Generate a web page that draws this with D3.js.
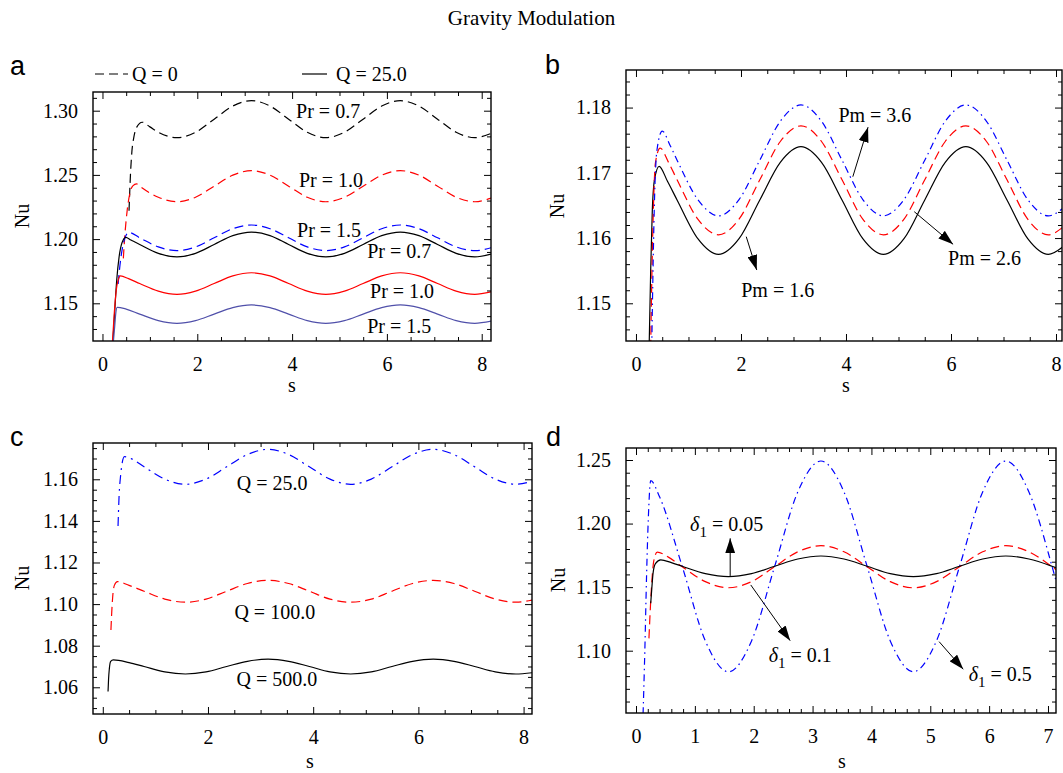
<!DOCTYPE html>
<html lang="en">
<head>
<meta charset="utf-8">
<script src="https://cdn.jsdelivr.net/npm/d3@7"></script>
<style>
  body { margin: 0; background: #fff; }
</style>
</head>
<body>
<svg id="fig" width="1063" height="773" font-family="'Liberation Serif', 'Times New Roman', serif"></svg>
<script>
// ---- values: [s, Nu] ----
// panel a: Q = 0 (dashed) and Q = 25 (solid) for three Pr
const a_q0_pr07 = [[0.56,1.222],[0.59,1.250],[0.62,1.268],[0.66,1.279],[0.72,1.287],[0.84,1.2910],[1.00,1.2874],[1.178,1.2832],[1.571,1.2790],[1.963,1.2832],[2.356,1.2934],[2.749,1.3036],[3.142,1.3078],[3.534,1.3036],[3.927,1.2934],[4.320,1.2832],[4.712,1.2790],[5.105,1.2832],[5.498,1.2934],[5.890,1.3036],[6.283,1.3078],[6.676,1.3036],[7.069,1.2934],[7.461,1.2832],[7.854,1.2790],[8.20,1.2823]];
const a_q0_pr10 = [[0.44,1.185],[0.47,1.202],[0.52,1.222],[0.58,1.236],[0.64,1.2415],[0.72,1.2430],[0.785,1.2412],[1.178,1.2326],[1.571,1.2291],[1.963,1.2326],[2.356,1.2412],[2.749,1.2498],[3.142,1.2533],[3.534,1.2498],[3.927,1.2412],[4.320,1.2326],[4.712,1.2291],[5.105,1.2326],[5.498,1.2412],[5.890,1.2498],[6.283,1.2533],[6.676,1.2498],[7.069,1.2412],[7.461,1.2326],[7.854,1.2291],[8.20,1.2319]];
const a_q0_pr15 = [[0.33,1.165],[0.37,1.180],[0.42,1.193],[0.48,1.2015],[0.56,1.2052],[0.785,1.2010],[1.178,1.1939],[1.571,1.1910],[1.963,1.1939],[2.356,1.2010],[2.749,1.2081],[3.142,1.2110],[3.534,1.2081],[3.927,1.2010],[4.320,1.1939],[4.712,1.1910],[5.105,1.1939],[5.498,1.2010],[5.890,1.2081],[6.283,1.2110],[6.676,1.2081],[7.069,1.2010],[7.461,1.1939],[7.854,1.1910],[8.20,1.1933]];
const a_q25_pr07 = [[0.22,1.120],[0.26,1.145],[0.30,1.168],[0.35,1.186],[0.41,1.197],[0.49,1.2014],[0.60,1.1993],[0.785,1.1958],[1.178,1.1889],[1.571,1.1861],[1.963,1.1889],[2.356,1.1958],[2.749,1.2027],[3.142,1.2055],[3.534,1.2027],[3.927,1.1958],[4.320,1.1889],[4.712,1.1861],[5.105,1.1889],[5.498,1.1958],[5.890,1.2027],[6.283,1.2055],[6.676,1.2027],[7.069,1.1958],[7.461,1.1889],[7.854,1.1861],[8.20,1.1883]];
const a_q25_pr10 = [[0.21,1.120],[0.25,1.143],[0.29,1.160],[0.33,1.168],[0.38,1.1713],[0.55,1.1692],[0.785,1.1654],[1.178,1.1595],[1.571,1.1570],[1.963,1.1595],[2.356,1.1654],[2.749,1.1713],[3.142,1.1738],[3.534,1.1713],[3.927,1.1654],[4.320,1.1595],[4.712,1.1570],[5.105,1.1595],[5.498,1.1654],[5.890,1.1713],[6.283,1.1738],[6.676,1.1713],[7.069,1.1654],[7.461,1.1595],[7.854,1.1570],[8.20,1.1589]];
const a_q25_pr15 = [[0.23,1.120],[0.26,1.133],[0.28,1.142],[0.31,1.1469],[0.50,1.1455],[0.785,1.1416],[1.178,1.1365],[1.571,1.1344],[1.963,1.1365],[2.356,1.1416],[2.749,1.1466],[3.142,1.1487],[3.534,1.1466],[3.927,1.1416],[4.320,1.1365],[4.712,1.1344],[5.105,1.1365],[5.498,1.1416],[5.890,1.1466],[6.283,1.1487],[6.676,1.1466],[7.069,1.1416],[7.461,1.1365],[7.854,1.1344],[8.20,1.1361]];

// panel b: Pm = 1.6, 2.6, 3.6
const b_pm16 = [[0.25,1.143],[0.28,1.155],[0.31,1.164],[0.35,1.1688],[0.44,1.1710],[0.60,1.1687],[0.785,1.1658],[1.178,1.1599],[1.571,1.1575],[1.963,1.1599],[2.356,1.1658],[2.749,1.1716],[3.142,1.1740],[3.534,1.1716],[3.927,1.1658],[4.320,1.1599],[4.712,1.1575],[5.105,1.1599],[5.498,1.1658],[5.890,1.1716],[6.283,1.1740],[6.676,1.1716],[7.069,1.1658],[7.461,1.1599],[7.854,1.1575],[8.12,1.1586]];
const b_pm26 = [[0.28,1.143],[0.30,1.153],[0.33,1.164],[0.37,1.1715],[0.46,1.1738],[0.62,1.1716],[0.785,1.1689],[1.178,1.1629],[1.571,1.1605],[1.963,1.1629],[2.356,1.1689],[2.749,1.1748],[3.142,1.1772],[3.534,1.1748],[3.927,1.1689],[4.320,1.1629],[4.712,1.1605],[5.105,1.1629],[5.498,1.1689],[5.890,1.1748],[6.283,1.1772],[6.676,1.1748],[7.069,1.1689],[7.461,1.1629],[7.854,1.1605],[8.12,1.1616]];
const b_pm36 = [[0.30,1.143],[0.32,1.153],[0.35,1.165],[0.40,1.1735],[0.50,1.1764],[0.65,1.1742],[0.785,1.1719],[1.178,1.1659],[1.571,1.1634],[1.963,1.1659],[2.356,1.1719],[2.749,1.1779],[3.142,1.1804],[3.534,1.1779],[3.927,1.1719],[4.320,1.1659],[4.712,1.1634],[5.105,1.1659],[5.498,1.1719],[5.890,1.1779],[6.283,1.1804],[6.676,1.1779],[7.069,1.1719],[7.461,1.1659],[7.854,1.1634],[8.12,1.1645]];

// panel c: Q = 25, 100, 500
const c_q25 = [[0.29,1.1375],[0.31,1.152],[0.34,1.162],[0.37,1.168],[0.41,1.1709],[0.55,1.1698],[0.785,1.1660],[1.178,1.1601],[1.571,1.1576],[1.963,1.1601],[2.356,1.1660],[2.749,1.1719],[3.142,1.1744],[3.534,1.1719],[3.927,1.1660],[4.320,1.1601],[4.712,1.1576],[5.105,1.1601],[5.498,1.1660],[5.890,1.1719],[6.283,1.1744],[6.676,1.1719],[7.069,1.1660],[7.461,1.1601],[7.854,1.1576],[8.16,1.1591]];
const c_q100 = [[0.155,1.0875],[0.17,1.096],[0.19,1.104],[0.22,1.109],[0.28,1.1108],[0.50,1.1090],[0.785,1.1062],[1.178,1.1024],[1.571,1.1009],[1.963,1.1024],[2.356,1.1062],[2.749,1.1099],[3.142,1.1114],[3.534,1.1099],[3.927,1.1062],[4.320,1.1024],[4.712,1.1009],[5.105,1.1024],[5.498,1.1062],[5.890,1.1099],[6.283,1.1114],[6.676,1.1099],[7.069,1.1062],[7.461,1.1024],[7.854,1.1009],[8.16,1.1019]];
const c_q500 = [[0.10,1.058],[0.11,1.064],[0.125,1.069],[0.15,1.0725],[0.20,1.0732],[0.50,1.0719],[0.785,1.0700],[1.178,1.0674],[1.571,1.0664],[1.963,1.0674],[2.356,1.0700],[2.749,1.0725],[3.142,1.0735],[3.534,1.0725],[3.927,1.0700],[4.320,1.0674],[4.712,1.0664],[5.105,1.0674],[5.498,1.0700],[5.890,1.0725],[6.283,1.0735],[6.676,1.0725],[7.069,1.0700],[7.461,1.0674],[7.854,1.0664],[8.16,1.0670]];

// panel d: delta1 = 0.05, 0.1, 0.5
const d_del005 = [[0.25,1.1373],[0.27,1.150],[0.29,1.161],[0.33,1.1685],[0.42,1.1715],[0.60,1.1693],[0.785,1.1664],[1.178,1.1606],[1.571,1.1582],[1.963,1.1606],[2.356,1.1664],[2.749,1.1721],[3.142,1.1745],[3.534,1.1721],[3.927,1.1664],[4.320,1.1606],[4.712,1.1582],[5.105,1.1606],[5.498,1.1664],[5.890,1.1721],[6.283,1.1745],[6.676,1.1721],[7.069,1.1664],[7.14,1.1652]];
const d_del01 = [[0.22,1.1097],[0.24,1.130],[0.27,1.155],[0.30,1.170],[0.36,1.1775],[0.55,1.1736],[0.785,1.1661],[1.178,1.1543],[1.571,1.1495],[1.963,1.1543],[2.356,1.1661],[2.749,1.1778],[3.142,1.1826],[3.534,1.1778],[3.927,1.1661],[4.320,1.1543],[4.712,1.1495],[5.105,1.1543],[5.498,1.1661],[5.890,1.1778],[6.283,1.1826],[6.676,1.1778],[7.069,1.1661],[7.14,1.1637]];
const d_del05 = [[0.12,1.050],[0.15,1.100],[0.18,1.160],[0.21,1.205],[0.25,1.2337],[0.40,1.2210],[0.785,1.1663],[1.178,1.1077],[1.571,1.0834],[1.963,1.1077],[2.356,1.1663],[2.749,1.2249],[3.142,1.2492],[3.534,1.2249],[3.927,1.1663],[4.320,1.1077],[4.712,1.0834],[5.105,1.1077],[5.498,1.1663],[5.890,1.2249],[6.283,1.2492],[6.676,1.2249],[7.069,1.1663],[7.14,1.1544]];

// tick labels
const xTicks8 = [0, 2, 4, 6, 8];
const xTicks7 = [0, 1, 2, 3, 4, 5, 6, 7];
const yTicksA = [1.15, 1.20, 1.25, 1.30];
const yTicksB = [1.15, 1.16, 1.17, 1.18];
const yTicksC = [1.06, 1.08, 1.10, 1.12, 1.14, 1.16];
const yTicksD = [1.10, 1.15, 1.20, 1.25];

const DASH = "9,5";
const DASHDOT = "7,4,1.5,4";

const panels = [
  { key: "a", letter: [10, 75], box: [93, 92, 491, 341], xDom: [-0.2, 8.196], yDom: [1.12064, 1.31456],
    xMajor: xTicks8, xMinor: 0.5, yMajor: yTicksA, yMinor: 0.01,
    nu: [22, 216], s: [292, 392],
    series: [
      { data: a_q0_pr07, color: "#000", dash: DASH },
      { data: a_q0_pr10, color: "#ff0000", dash: DASH },
      { data: a_q0_pr15, color: "#0000ff", dash: DASH },
      { data: a_q25_pr07, color: "#000", dash: null },
      { data: a_q25_pr10, color: "#ff0000", dash: null },
      { data: a_q25_pr15, color: "#5050aa", dash: null }
    ],
    labels: [
      { t: "Pr = 0.7", s: 4.76, v: 1.2943 },
      { t: "Pr = 1.0", s: 4.82, v: 1.2406 },
      { t: "Pr = 1.5", s: 4.78, v: 1.2016 },
      { t: "Pr = 0.7", s: 6.26, v: 1.1853 },
      { t: "Pr = 1.0", s: 6.32, v: 1.1541 },
      { t: "Pr = 1.5", s: 6.26, v: 1.1268 }
    ],
    arrows: [] },
  { key: "b", letter: [545, 74], box: [626, 70, 1062, 341], xDom: [-0.19, 8.114], yDom: [1.14422, 1.18576],
    xMajor: xTicks8, xMinor: 0.5, yMajor: yTicksB, yMinor: 0.002,
    nu: [557, 206], s: [846, 392],
    series: [
      { data: b_pm16, color: "#000", dash: null },
      { data: b_pm26, color: "#ff0000", dash: DASH },
      { data: b_pm36, color: "#0000ff", dash: DASHDOT }
    ],
    labels: [
      { t: "Pm = 3.6", s: 4.55, v: 1.1778 },
      { t: "Pm = 2.6", s: 6.64, v: 1.15587 },
      { t: "Pm = 1.6", s: 2.70, v: 1.15096 }
    ],
    arrows: [
      { from: [4.13, 1.1694], to: [4.42, 1.1770] },
      { from: [5.30, 1.16404], to: [6.04, 1.15904] },
      { from: [2.10, 1.16021], to: [2.30, 1.15510] }
    ] },
  { key: "c", letter: [10, 446], box: [93, 443, 532, 714], xDom: [-0.186, 8.16], yDom: [1.04716, 1.17745],
    xMajor: xTicks8, xMinor: 0.5, yMajor: yTicksC, yMinor: 0.005,
    nu: [22, 578], s: [310, 768],
    series: [
      { data: c_q25, color: "#0000ff", dash: "9,5,2,5" },
      { data: c_q100, color: "#ff0000", dash: DASH },
      { data: c_q500, color: "#000", dash: null }
    ],
    labels: [
      { t: "Q = 25.0", s: 3.22, v: 1.1549 },
      { t: "Q = 100.0", s: 3.27, v: 1.0930 },
      { t: "Q = 500.0", s: 3.31, v: 1.0606 }
    ],
    arrows: [] },
  { key: "d", letter: [546, 446], box: [626, 448, 1056, 713], xDom: [-0.17, 7.136], yDom: [1.05099, 1.25944],
    xMajor: xTicks7, xMinor: 0.2, yMajor: yTicksD, yMinor: 0.01,
    nu: [558, 580], s: [842, 768],
    series: [
      { data: d_del05, color: "#0000ff", dash: DASHDOT },
      { data: d_del01, color: "#ff0000", dash: DASH },
      { data: d_del005, color: "#000", dash: null }
    ],
    labels: [
      { t: "0.05", delta: true, s: 1.54, v: 1.1942 },
      { t: "0.1", delta: true, s: 2.79, v: 1.0911 },
      { t: "0.5", delta: true, s: 6.19, v: 1.0762 }
    ],
    arrows: [
      { from: [1.60, 1.1588], to: [1.60, 1.1884] },
      { from: [1.95, 1.1517], to: [2.62, 1.1079] },
      { from: [5.15, 1.1071], to: [5.56, 1.0854] }
    ] }
];

const svg = d3.select("#fig");
const defs = svg.append("defs");
defs.append("marker").attr("id", "head")
  .attr("viewBox", "0 0 15 10").attr("refX", 15).attr("refY", 5)
  .attr("markerWidth", 15).attr("markerHeight", 10)
  .attr("markerUnits", "userSpaceOnUse").attr("orient", "auto")
  .append("path").attr("d", "M0,0L15,5L0,10Z").attr("fill", "#000");

svg.append("text").attr("x", 531.5).attr("y", 25).attr("text-anchor", "middle")
  .attr("font-size", 21).text("Gravity Modulation");

function minorTicks(dom, step, major) {
  const lo = Math.ceil(dom[0] / step - 1e-9), hi = Math.floor(dom[1] / step + 1e-9);
  return d3.range(lo, hi + 1).map(i => +(i * step).toFixed(6))
    .filter(v => !major.some(m => Math.abs(m - v) < step / 10));
}

function drawPanel(p) {
  const [x0, y0, x1, y1] = p.box;
  const x = d3.scaleLinear().domain(p.xDom).range([x0, x1]);
  const y = d3.scaleLinear().domain(p.yDom).range([y1, y0]);
  const g = svg.append("g").attr("class", "panel-" + p.key);

  defs.append("clipPath").attr("id", "clip-" + p.key)
    .append("rect").attr("x", x0).attr("y", y0).attr("width", x1 - x0).attr("height", y1 - y0);

  const line = d3.line().x(d => x(d[0])).y(d => y(d[1])).curve(d3.curveMonotoneX);
  p.series.forEach(c => {
    g.append("path").attr("d", line(c.data))
      .attr("fill", "none").attr("stroke", c.color).attr("stroke-width", 1.2)
      .attr("stroke-dasharray", c.dash).attr("clip-path", "url(#clip-" + p.key + ")");
  });

  // axes, ticks pointing inwards on all four sides
  const xm = minorTicks(p.xDom, p.xMinor, p.xMajor);
  const ym = minorTicks(p.yDom, p.yMinor, p.yMajor);
  const none = () => "";
  const put = (axis, tr, vals, size, fmt, pad) => {
    const a = g.append("g").attr("transform", tr)
      .call(axis.tickValues(vals).tickSize(size).tickPadding(pad).tickFormat(fmt));
    a.select(".domain").remove();
    a.selectAll("line").attr("stroke", "#000").attr("stroke-width", 1);
    a.selectAll("text").attr("font-family", "'Liberation Serif', serif").attr("font-size", 20).attr("fill", "#000");
  };
  put(d3.axisBottom(x), `translate(0,${y1})`, p.xMajor, -7, d3.format("d"), 16);
  put(d3.axisBottom(x), `translate(0,${y1})`, xm, -4, none, 0);
  put(d3.axisTop(x), `translate(0,${y0})`, p.xMajor, -7, none, 0);
  put(d3.axisTop(x), `translate(0,${y0})`, xm, -4, none, 0);
  put(d3.axisLeft(y), `translate(${x0},0)`, p.yMajor, -7, d3.format(".2f"), 15);
  put(d3.axisLeft(y), `translate(${x0},0)`, ym, -4, none, 0);
  put(d3.axisRight(y), `translate(${x1},0)`, p.yMajor, -7, none, 0);
  put(d3.axisRight(y), `translate(${x1},0)`, ym, -4, none, 0);

  g.append("rect").attr("x", x0).attr("y", y0).attr("width", x1 - x0).attr("height", y1 - y0)
    .attr("fill", "none").attr("stroke", "#000").attr("stroke-width", 1.4);

  // curve labels
  p.labels.forEach(l => {
    const t = g.append("text").attr("x", x(l.s)).attr("y", y(l.v))
      .attr("text-anchor", "middle").attr("font-size", 20);
    if (l.delta) {
      t.append("tspan").attr("font-style", "italic").text("δ");
      t.append("tspan").attr("dy", 6).attr("font-size", 15).text("1");
      t.append("tspan").attr("dy", -6).text(" = " + l.t);
    } else {
      t.text(l.t);
    }
  });

  p.arrows.forEach(a => {
    g.append("line")
      .attr("x1", x(a.from[0])).attr("y1", y(a.from[1]))
      .attr("x2", x(a.to[0])).attr("y2", y(a.to[1]))
      .attr("stroke", "#000").attr("stroke-width", 1).attr("marker-end", "url(#head)");
  });

  // axis titles and panel letter
  g.append("text").attr("transform", `translate(${p.nu[0]},${p.nu[1]}) rotate(-90)`)
    .attr("text-anchor", "middle").attr("dy", "0.35em").attr("font-size", 20).text("Nu");
  g.append("text").attr("x", p.s[0]).attr("y", p.s[1]).attr("text-anchor", "middle")
    .attr("font-size", 20).text("s");
  g.append("text").attr("x", p.letter[0]).attr("y", p.letter[1])
    .attr("font-family", "'Liberation Sans', Arial, sans-serif").attr("font-size", 27).text(p.key);
}

panels.forEach(drawPanel);

// legend of panel a
const leg = svg.append("g");
leg.append("line").attr("x1", 95).attr("x2", 128).attr("y1", 74).attr("y2", 74)
  .attr("stroke", "#000").attr("stroke-width", 1.2).attr("stroke-dasharray", DASH);
leg.append("text").attr("x", 132).attr("y", 81).attr("font-size", 20).text("Q = 0");
leg.append("line").attr("x1", 302).attr("x2", 327).attr("y1", 74).attr("y2", 74)
  .attr("stroke", "#000").attr("stroke-width", 1.2);
leg.append("text").attr("x", 336).attr("y", 81).attr("font-size", 20).text("Q = 25.0");
</script>
</body>
</html>
